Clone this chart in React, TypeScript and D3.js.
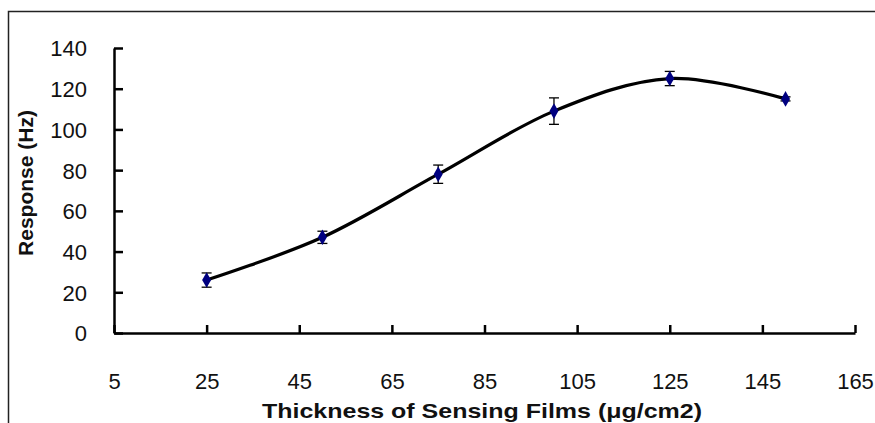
import * as d3 from "d3";
import { useEffect, useRef } from "react";

const thickness = [25, 50, 75, 100, 125, 150];
const response = [26, 47, 78, 109, 125, 115];
const errors = [3.5, 3, 4.5, 6.5, 3.5, 1];
const xTicks = [5, 25, 45, 65, 85, 105, 125, 145, 165];
const yTicks = [0, 20, 40, 60, 80, 100, 120, 140];

const W = 875;
const H = 423;

export default function App() {
  const ref = useRef<SVGSVGElement>(null);

  useEffect(() => {
    const svg = d3.select(ref.current);
    svg.selectAll("*").remove();

    const font = "'Liberation Sans', Arial, sans-serif";

    // outer frame (cropped at right and bottom in the original)
    svg.append("rect")
      .attr("x", 8.5).attr("y", 11.5)
      .attr("width", W + 20).attr("height", H + 20)
      .attr("fill", "white").attr("stroke", "#222").attr("stroke-width", 1.5);

    const x = d3.scaleLinear().domain([5, 165]).range([114, 855]);
    const y = d3.scaleLinear().domain([0, 140]).range([333, 48]);

    const yAxis = d3.axisLeft(y).tickValues(yTicks)
      .tickSizeInner(-9).tickSizeOuter(0).tickPadding(27);
    const xAxis = d3.axisBottom(x).tickValues(xTicks)
      .tickSizeInner(-8).tickSizeOuter(0).tickPadding(40);

    const gy = svg.append("g").attr("transform", `translate(${x(5)},0)`).call(yAxis);
    const gx = svg.append("g").attr("transform", `translate(0,${y(0)})`).call(xAxis);

    [gx, gy].forEach((g) => {
      g.select(".domain").attr("stroke", "#000").attr("stroke-width", 2.5);
      g.selectAll(".tick line").attr("stroke", "#000").attr("stroke-width", 2.5);
      g.selectAll(".tick text")
        .attr("fill", "#111")
        .style("font-family", font)
        .style("font-size", "22px");
    });
    gy.selectAll(".tick text").attr("dy", "0.36em");

    // smoothed line
    const pts = thickness.map((t, i) => [x(t), y(response[i])] as [number, number]);
    svg.append("path")
      .attr("d", d3.line().curve(d3.curveCardinal.tension(0))(pts))
      .attr("fill", "none").attr("stroke", "#000").attr("stroke-width", 3.2);

    // error bars
    const eb = svg.append("g").attr("stroke", "#000").attr("stroke-width", 1.3);
    thickness.forEach((t, i) => {
      const cx = x(t);
      const top = y(response[i] + errors[i]);
      const bot = y(response[i] - errors[i]);
      eb.append("line").attr("x1", cx).attr("x2", cx).attr("y1", top).attr("y2", bot);
      eb.append("line").attr("x1", cx - 5).attr("x2", cx + 5).attr("y1", top).attr("y2", top);
      eb.append("line").attr("x1", cx - 5).attr("x2", cx + 5).attr("y1", bot).attr("y2", bot);
    });

    // markers
    const diamond = d3.symbol().type(d3.symbolDiamond).size(70);
    svg.append("g").selectAll("path")
      .data(thickness)
      .join("path")
      .attr("d", diamond)
      .attr("transform", (t, i) => `translate(${x(t)},${y(response[i])})`)
      .attr("fill", "#000080");

    // axis titles
    svg.append("text")
      .attr("x", 482).attr("y", 418)
      .attr("text-anchor", "middle")
      .attr("textLength", 440).attr("lengthAdjust", "spacingAndGlyphs")
      .style("font-family", font).style("font-size", "21px").style("font-weight", "bold")
      .attr("fill", "#111")
      .text("Thickness of Sensing Films (μg/cm2)");

    svg.append("text")
      .attr("transform", "translate(33,183) rotate(-90)")
      .attr("text-anchor", "middle")
      .style("font-family", font).style("font-size", "21px").style("font-weight", "bold")
      .attr("fill", "#111")
      .text("Response (Hz)");
  }, []);

  return (
    <svg
      ref={ref}
      width={W}
      height={H}
      style={{ position: "absolute", left: 0, top: 0, background: "white" }}
    />
  );
}
